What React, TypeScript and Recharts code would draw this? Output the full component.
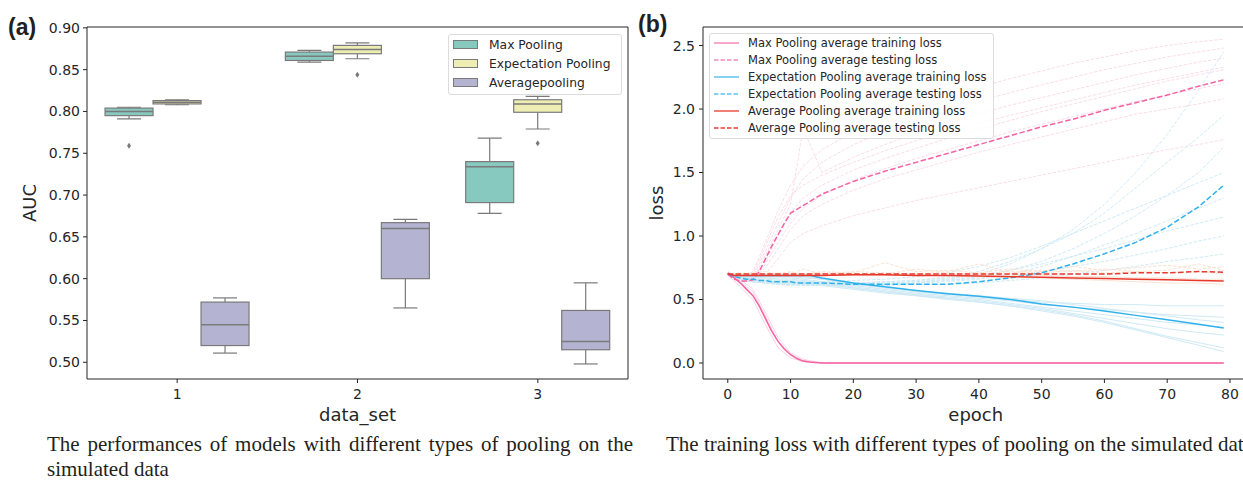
import React from 'react'
import { Bar, ComposedChart, Line, ReferenceArea, XAxis, YAxis } from 'recharts'

// ---- panel (a): AUC box plots ----
const DATA_SETS = ['1', '2', '3']
// [lower whisker, Q1, median, Q3, upper whisker]
const MAX_POOLING = [
  [0.791, 0.795, 0.8, 0.804, 0.805],
  [0.859, 0.861, 0.866, 0.871, 0.873],
  [0.678, 0.691, 0.734, 0.74, 0.768],
]
const MAX_POOLING_OUTLIERS = [[0.759], [], []]
const EXPECTATION_POOLING = [
  [0.808, 0.809, 0.811, 0.813, 0.814],
  [0.863, 0.869, 0.874, 0.879, 0.882],
  [0.779, 0.799, 0.809, 0.814, 0.818],
]
const EXPECTATION_POOLING_OUTLIERS = [[], [0.844], [0.762]]
const AVERAGE_POOLING = [
  [0.511, 0.52, 0.545, 0.572, 0.577],
  [0.565, 0.6, 0.66, 0.667, 0.671],
  [0.498, 0.515, 0.525, 0.562, 0.595],
]
const AVERAGE_POOLING_OUTLIERS = [[], [], []]
const AUC_TICKS = [0.5, 0.55, 0.6, 0.65, 0.7, 0.75, 0.8, 0.85, 0.9]

// ---- panel (b): loss curves ----
const EPOCH_TICKS = [0, 10, 20, 30, 40, 50, 60, 70, 80]
const LOSS_TICKS = [0, 0.5, 1, 1.5, 2, 2.5]

const MEAN_EPOCHS = [0, 1, 2, 3, 4, 5, 6, 7, 8, 9, 10, 11, 12, 13, 14, 15, 20, 25, 30, 35, 40, 45, 50, 55, 60, 65, 70, 75, 79]
const MAX_TRAIN = [0.71, 0.67, 0.63, 0.58, 0.53, 0.45, 0.35, 0.25, 0.17, 0.11, 0.065, 0.035, 0.015, 0.007, 0.003, 0, 0, 0, 0, 0, 0, 0, 0, 0, 0, 0, 0, 0, 0]
const MAX_TEST = [0.7, 0.66, 0.645, 0.645, 0.655, 0.72, 0.82, 0.92, 1.01, 1.1, 1.18, 1.21, 1.24, 1.27, 1.3, 1.33, 1.43, 1.51, 1.58, 1.65, 1.72, 1.79, 1.86, 1.92, 1.99, 2.05, 2.11, 2.18, 2.23]
const EXP_TRAIN = [0.7, 0.69, 0.69, 0.69, 0.69, 0.69, 0.69, 0.69, 0.69, 0.69, 0.69, 0.69, 0.69, 0.69, 0.68, 0.67, 0.63, 0.6, 0.57, 0.545, 0.525, 0.5, 0.465, 0.44, 0.41, 0.375, 0.34, 0.305, 0.275]
const EXP_TEST = [0.7, 0.68, 0.67, 0.66, 0.66, 0.65, 0.65, 0.64, 0.64, 0.64, 0.64, 0.63, 0.63, 0.63, 0.63, 0.63, 0.62, 0.62, 0.62, 0.62, 0.64, 0.67, 0.71, 0.78, 0.86, 0.95, 1.07, 1.23, 1.4]
const AVG_TRAIN = [0.7, 0.69, 0.69, 0.69, 0.69, 0.69, 0.69, 0.69, 0.69, 0.69, 0.69, 0.69, 0.69, 0.69, 0.69, 0.69, 0.695, 0.695, 0.69, 0.69, 0.685, 0.68, 0.675, 0.67, 0.665, 0.66, 0.655, 0.65, 0.645]
const AVG_TEST = [0.7, 0.7, 0.7, 0.7, 0.7, 0.7, 0.7, 0.7, 0.7, 0.7, 0.7, 0.7, 0.7, 0.7, 0.7, 0.7, 0.7, 0.7, 0.7, 0.7, 0.7, 0.7, 0.7, 0.7, 0.7, 0.71, 0.71, 0.72, 0.715]

// individual runs (faint)
const RUN_EPOCHS = [0, 2, 4, 6, 8, 10, 12, 15, 20, 25, 30, 35, 40, 45, 50, 55, 60, 65, 70, 75, 79]
const MAX_TRAIN_RUNS = [
  [0.72, 0.66, 0.58, 0.4, 0.2, 0.08, 0.03, 0, 0, 0, 0, 0, 0, 0, 0, 0, 0, 0, 0, 0, 0],
  [0.69, 0.6, 0.5, 0.3, 0.12, 0.04, 0.01, 0, 0, 0, 0, 0, 0, 0, 0, 0, 0, 0, 0, 0, 0],
  [0.71, 0.64, 0.56, 0.37, 0.17, 0.07, 0.02, 0, 0, 0, 0, 0, 0, 0, 0, 0, 0, 0, 0, 0, 0],
]
const MAX_TEST_RUNS = [
  [0.7, 0.66, 0.72, 0.95, 1.2, 1.4, 1.55, 1.68, 1.82, 1.93, 2.02, 2.1, 2.17, 2.24, 2.3, 2.36, 2.41, 2.46, 2.5, 2.53, 2.55],
  [0.7, 0.65, 0.68, 0.88, 1.1, 1.3, 1.45, 1.58, 1.72, 1.82, 1.91, 1.99, 2.06, 2.13, 2.19, 2.25, 2.31, 2.36, 2.41, 2.45, 2.48],
  [0.7, 0.64, 0.66, 0.85, 1.05, 1.25, 1.85, 1.5, 1.62, 1.72, 1.81, 1.89, 1.96, 2.03, 2.09, 2.15, 2.21, 2.27, 2.32, 2.37, 2.4],
  [0.7, 0.65, 0.67, 0.8, 1.0, 1.18, 1.3, 1.4, 1.52, 1.61, 1.69, 1.77, 1.84, 1.91, 1.98, 2.04, 2.1, 2.16, 2.22, 2.27, 2.31],
  [0.7, 0.64, 0.65, 0.78, 0.95, 1.1, 1.22, 1.32, 1.44, 1.53, 1.61, 1.68, 1.75, 1.82, 1.88, 1.94, 2.0, 2.06, 2.11, 2.16, 2.2],
  [0.7, 0.65, 0.66, 0.75, 0.9, 1.05, 1.16, 1.25, 1.36, 1.45, 1.52, 1.59, 1.66, 1.72, 1.78, 1.84, 1.9, 1.96, 2.0, 2.04, 2.08],
  [0.7, 0.64, 0.64, 0.7, 0.82, 0.95, 1.02, 1.08, 1.16, 1.22, 1.28, 1.33, 1.38, 1.43, 1.48, 1.53, 1.58, 1.63, 1.68, 1.72, 1.76],
  [0.7, 0.66, 0.7, 0.92, 1.15, 1.32, 1.4, 1.48, 1.58, 1.67, 1.75, 1.82, 1.89, 1.95, 2.01, 2.07, 2.13, 2.19, 2.24, 2.29, 2.33],
]
const EXP_TRAIN_RUNS = [
  [0.7, 0.69, 0.68, 0.68, 0.68, 0.68, 0.67, 0.66, 0.62, 0.59, 0.56, 0.54, 0.52, 0.5, 0.48, 0.47, 0.46, 0.46, 0.45, 0.45, 0.45],
  [0.7, 0.68, 0.67, 0.67, 0.67, 0.67, 0.66, 0.64, 0.61, 0.58, 0.55, 0.53, 0.51, 0.49, 0.46, 0.44, 0.42, 0.4, 0.38, 0.37, 0.36],
  [0.7, 0.67, 0.66, 0.66, 0.65, 0.65, 0.64, 0.62, 0.59, 0.56, 0.54, 0.52, 0.5, 0.47, 0.44, 0.41, 0.38, 0.35, 0.32, 0.3, 0.28],
  [0.7, 0.66, 0.64, 0.63, 0.63, 0.62, 0.62, 0.61, 0.58, 0.55, 0.53, 0.51, 0.49, 0.46, 0.43, 0.39, 0.35, 0.31, 0.27, 0.24, 0.22],
  [0.7, 0.68, 0.67, 0.67, 0.66, 0.66, 0.65, 0.63, 0.6, 0.57, 0.54, 0.51, 0.48, 0.45, 0.41, 0.37, 0.32, 0.26, 0.2, 0.14, 0.09],
  [0.7, 0.67, 0.65, 0.65, 0.64, 0.64, 0.63, 0.62, 0.59, 0.56, 0.53, 0.5, 0.48, 0.45, 0.42, 0.38, 0.33, 0.27, 0.21, 0.16, 0.12],
  [0.7, 0.69, 0.69, 0.69, 0.69, 0.69, 0.68, 0.66, 0.63, 0.6, 0.57, 0.55, 0.53, 0.51, 0.49, 0.46, 0.43, 0.4, 0.37, 0.34, 0.32],
]
const EXP_TEST_RUNS = [
  [0.7, 0.66, 0.64, 0.63, 0.63, 0.62, 0.62, 0.62, 0.62, 0.63, 0.64, 0.66, 0.7, 0.78, 0.9, 1.05, 1.25, 1.5, 1.8, 2.15, 2.45],
  [0.7, 0.67, 0.65, 0.64, 0.64, 0.63, 0.63, 0.63, 0.63, 0.64, 0.65, 0.68, 0.72, 0.8, 0.9, 1.02, 1.18, 1.38, 1.58, 1.78, 1.95],
  [0.7, 0.66, 0.64, 0.63, 0.62, 0.62, 0.61, 0.61, 0.62, 0.62, 0.63, 0.65, 0.68, 0.73, 0.8, 0.9, 1.02, 1.16, 1.32, 1.5, 1.7],
  [0.7, 0.67, 0.66, 0.65, 0.64, 0.64, 0.64, 0.64, 0.65, 0.66, 0.68, 0.71, 0.76, 0.83, 0.92, 1.02, 1.12, 1.22, 1.32, 1.42, 1.5],
  [0.7, 0.66, 0.64, 0.63, 0.62, 0.62, 0.62, 0.62, 0.62, 0.62, 0.63, 0.64, 0.66, 0.7, 0.76, 0.84, 0.93, 1.02, 1.12, 1.22, 1.3],
  [0.7, 0.66, 0.65, 0.64, 0.63, 0.63, 0.63, 0.63, 0.63, 0.64, 0.65, 0.67, 0.69, 0.73, 0.78, 0.84, 0.9, 0.97, 1.04, 1.1, 1.15],
  [0.7, 0.67, 0.65, 0.64, 0.64, 0.63, 0.63, 0.63, 0.63, 0.63, 0.64, 0.65, 0.67, 0.69, 0.72, 0.76, 0.8, 0.85, 0.9, 0.96, 1.0],
  [0.7, 0.66, 0.64, 0.63, 0.62, 0.61, 0.61, 0.61, 0.61, 0.61, 0.62, 0.62, 0.63, 0.65, 0.67, 0.7, 0.73, 0.76, 0.8, 0.83, 0.86],
]
const AVG_TRAIN_RUNS = [
  [0.7, 0.69, 0.69, 0.69, 0.69, 0.69, 0.69, 0.69, 0.69, 0.69, 0.69, 0.69, 0.68, 0.68, 0.67, 0.66, 0.65, 0.64, 0.63, 0.63, 0.62],
  [0.7, 0.7, 0.7, 0.7, 0.7, 0.7, 0.7, 0.7, 0.7, 0.7, 0.7, 0.69, 0.69, 0.69, 0.69, 0.68, 0.68, 0.67, 0.67, 0.66, 0.66],
]
const AVG_TEST_RUNS = [
  [0.7, 0.7, 0.71, 0.72, 0.7, 0.71, 0.7, 0.72, 0.71, 0.79, 0.72, 0.73, 0.71, 0.74, 0.72, 0.76, 0.73, 0.75, 0.77, 0.74, 0.76],
  [0.7, 0.69, 0.7, 0.7, 0.71, 0.7, 0.74, 0.7, 0.72, 0.71, 0.7, 0.72, 0.78, 0.71, 0.73, 0.72, 0.74, 0.72, 0.73, 0.78, 0.73],
  [0.7, 0.71, 0.7, 0.69, 0.7, 0.72, 0.7, 0.71, 0.7, 0.7, 0.74, 0.71, 0.7, 0.72, 0.71, 0.73, 0.71, 0.72, 0.71, 0.72, 0.7],
]

const FONT = '"DejaVu Sans", sans-serif'
const INK = '#262626'
const BOX_EDGE = '#7a7a7a'

const BOX_COLORS = { max: '#88c9bf', exp: '#eeeeb4', avg: '#b4b4d2' }
const PINK = '#f562a4'
const BLUE = '#2fb1ec'
const RED = '#e8392e'

const boxRows = DATA_SETS.map((name, i) => ({
  name,
  i,
  max: [MAX_POOLING[i][0], MAX_POOLING[i][4]],
  exp: [EXPECTATION_POOLING[i][0], EXPECTATION_POOLING[i][4]],
  avg: [AVERAGE_POOLING[i][0], AVERAGE_POOLING[i][4]],
}))

const toPoints = (epochs: number[], values: number[]) =>
  epochs.map((e, i) => ({ e, v: values[i] }))

// caja + bigotes a partir del rango [bigote inf, bigote sup] que escala la propia Bar
function boxShape(stats: number[][], outliers: number[][]) {
  return (p: any) => {
    const idx = p.index ?? p.payload?.i ?? 0
    const s = stats[idx]
    const top = Math.min(p.y, p.y + p.height)
    const h = Math.abs(p.height)
    const k = h / (s[4] - s[0])
    const py = (v: number) => top + (s[4] - v) * k
    const x0 = p.x
    const w = p.width
    const cx = x0 + w / 2
    const cap = w / 4
    return (
      <g>
        <line x1={cx} x2={cx} y1={py(s[4])} y2={py(s[3])} stroke={BOX_EDGE} strokeWidth={1.2} />
        <line x1={cx} x2={cx} y1={py(s[1])} y2={py(s[0])} stroke={BOX_EDGE} strokeWidth={1.2} />
        <line x1={cx - cap} x2={cx + cap} y1={py(s[4])} y2={py(s[4])} stroke={BOX_EDGE} strokeWidth={1.2} />
        <line x1={cx - cap} x2={cx + cap} y1={py(s[0])} y2={py(s[0])} stroke={BOX_EDGE} strokeWidth={1.2} />
        <rect x={x0} y={py(s[3])} width={w} height={Math.max(py(s[1]) - py(s[3]), 0.5)} fill={p.fill} stroke={BOX_EDGE} strokeWidth={1.2} />
        <line x1={x0} x2={x0 + w} y1={py(s[2])} y2={py(s[2])} stroke={BOX_EDGE} strokeWidth={1.5} />
        {outliers[idx].map((o, j) => (
          <path key={j} d={`M${cx},${py(o) - 3} L${cx + 2},${py(o)} L${cx},${py(o) + 3} L${cx - 2},${py(o)} Z`} fill={BOX_EDGE} />
        ))}
      </g>
    )
  }
}

const tickStyle = { fontFamily: FONT, fontSize: 14, fill: INK }
const labelStyle = { fontFamily: FONT, fontSize: 18, fill: INK }

function LegendA() {
  const items = [
    ['Max Pooling', BOX_COLORS.max],
    ['Expectation Pooling', BOX_COLORS.exp],
    ['Averagepooling', BOX_COLORS.avg],
  ]
  return (
    <div style={{ position: 'absolute', left: 448, top: 34, width: 174, height: 61, border: '1px solid #dcdcdc', borderRadius: 3, background: 'rgba(255,255,255,0.85)', boxSizing: 'border-box', padding: '0 0 0 4px' }}>
      {items.map(([t, c]) => (
        <div key={t} style={{ display: 'flex', alignItems: 'center', height: 19, fontFamily: FONT, fontSize: 12.3, color: INK }}>
          <span style={{ width: 25, height: 9, background: c, border: `1px solid ${BOX_EDGE}`, marginRight: 11, boxSizing: 'border-box' }} />
          {t}
        </div>
      ))}
    </div>
  )
}

function LegendB() {
  const items: [string, string, boolean][] = [
    ['Max Pooling average training loss', '#f78bbd', false],
    ['Max Pooling average testing loss', '#f78bbd', true],
    ['Expectation Pooling average training loss', '#5cc3f0', false],
    ['Expectation Pooling average testing loss', '#5cc3f0', true],
    ['Average Pooling average training loss', '#ee5448', false],
    ['Average Pooling average testing loss', '#ee3a30', true],
  ]
  return (
    <div style={{ position: 'absolute', left: 709, top: 33, width: 285, height: 106, border: '1px solid #dcdcdc', borderRadius: 3, background: 'rgba(255,255,255,0.85)', boxSizing: 'border-box', padding: '0 0 0 4px' }}>
      {items.map(([t, c, dashed]) => (
        <div key={t} style={{ display: 'flex', alignItems: 'center', height: 17, fontFamily: FONT, fontSize: 11.5, color: INK, whiteSpace: 'nowrap' }}>
          <svg width={25} height={4} style={{ marginRight: 9 }}>
            <line x1={0} x2={25} y1={2} y2={2} stroke={c} strokeWidth={1.5} strokeDasharray={dashed ? '4.5 2' : undefined} />
          </svg>
          {t}
        </div>
      ))}
    </div>
  )
}

const caption: React.CSSProperties = {
  position: 'absolute',
  fontFamily: '"Liberation Serif", "Times New Roman", serif',
  fontSize: 21,
  lineHeight: '25px',
  color: '#231f20',
}

const panelTag: React.CSSProperties = {
  position: 'absolute',
  fontFamily: '"Liberation Sans", Arial, sans-serif',
  fontWeight: 'bold',
  fontSize: 23,
  color: '#231f20',
  lineHeight: '28px',
}

export default function App() {
  const faint = (epochs: number[], runs: number[][], color: string, dashed: boolean, key: string) =>
    runs.map((r, i) => (
      <Line
        key={`${key}-${i}`}
        data={toPoints(epochs, r)}
        dataKey="v"
        type="linear"
        stroke={color}
        strokeWidth={1}
        strokeDasharray={dashed ? '3.5 1.5' : undefined}
        dot={false}
        activeDot={false}
        isAnimationActive={false}
      />
    ))
  const mean = (values: number[], color: string, dashed: boolean, key: string) => (
    <Line
      key={key}
      data={toPoints(MEAN_EPOCHS, values)}
      dataKey="v"
      type="linear"
      stroke={color}
      strokeWidth={1.5}
      strokeDasharray={dashed ? '5.5 2.4' : undefined}
      dot={false}
      activeDot={false}
      isAnimationActive={false}
    />
  )

  return (
    <div style={{ position: 'absolute', left: 0, top: 0, width: 1243, height: 480, overflow: 'hidden', background: '#fff' }}>
      {/* (a) */}
      <div style={{ position: 'absolute', left: 0, top: 0 }}>
        <ComposedChart width={640} height={480} data={boxRows} margin={{ top: 27, right: 12, bottom: 59, left: 0 }} barCategoryGap="10%" barGap={0}>
          <XAxis
            dataKey="name"
            height={42}
            tick={tickStyle}
            tickSize={4}
            tickMargin={6}
            axisLine={false}
            tickLine={{ stroke: INK }}
            label={{ value: 'data_set', position: 'insideBottom', offset: 0, style: labelStyle }}
          />
          <YAxis
            type="number"
            domain={[0.48, 0.901]}
            ticks={AUC_TICKS}
            allowDataOverflow
            width={87}
            tick={tickStyle}
            tickSize={4}
            tickMargin={3}
            axisLine={false}
            tickLine={{ stroke: INK }}
            tickFormatter={(v: number) => v.toFixed(2)}
            label={{ value: 'AUC', angle: -90, position: 'insideLeft', offset: 30, style: { ...labelStyle, textAnchor: 'middle' } }}
          />
          <Bar dataKey="max" fill={BOX_COLORS.max} shape={boxShape(MAX_POOLING, MAX_POOLING_OUTLIERS)} isAnimationActive={false} />
          <Bar dataKey="exp" fill={BOX_COLORS.exp} shape={boxShape(EXPECTATION_POOLING, EXPECTATION_POOLING_OUTLIERS)} isAnimationActive={false} />
          <Bar dataKey="avg" fill={BOX_COLORS.avg} shape={boxShape(AVERAGE_POOLING, AVERAGE_POOLING_OUTLIERS)} isAnimationActive={false} />
          <ReferenceArea y1={0.48} y2={0.901} fill="none" stroke={INK} strokeWidth={1} ifOverflow="visible" />
        </ComposedChart>
      </div>
      <LegendA />

      {/* (b) */}
      <div style={{ position: 'absolute', left: 640, top: 0 }}>
        <ComposedChart width={620} height={480} margin={{ top: 27, right: 11.5, bottom: 59, left: 0 }}>
          <XAxis
            type="number"
            dataKey="e"
            domain={[-3.95, 82.95]}
            ticks={EPOCH_TICKS}
            allowDataOverflow
            height={42}
            tick={tickStyle}
            tickSize={4}
            tickMargin={6}
            axisLine={false}
            tickLine={{ stroke: INK }}
            label={{ value: 'epoch', position: 'insideBottom', offset: 0, style: labelStyle }}
          />
          <YAxis
            type="number"
            domain={[-0.126, 2.646]}
            ticks={LOSS_TICKS}
            allowDataOverflow
            width={63}
            tick={tickStyle}
            tickSize={4}
            tickMargin={4}
            axisLine={false}
            tickLine={{ stroke: INK }}
            tickFormatter={(v: number) => v.toFixed(1)}
            label={{ value: 'loss', angle: -90, position: 'insideLeft', offset: 17, style: { ...labelStyle, textAnchor: 'middle' } }}
          />
          {faint(RUN_EPOCHS, MAX_TEST_RUNS, '#fbdce8', true, 'mte')}
          {faint(RUN_EPOCHS, EXP_TEST_RUNS, '#cfeaf6', true, 'ete')}
          {faint(RUN_EPOCHS, EXP_TRAIN_RUNS, '#cfeaf6', false, 'etr')}
          {faint(RUN_EPOCHS, AVG_TEST_RUNS, '#fbe3d2', true, 'ate')}
          {faint(RUN_EPOCHS, AVG_TRAIN_RUNS, '#fbe3d2', false, 'atr')}
          {faint(RUN_EPOCHS, MAX_TRAIN_RUNS, '#fbd6e6', false, 'mtr')}
          {mean(MAX_TRAIN, PINK, false, 'm1')}
          {mean(MAX_TEST, PINK, true, 'm2')}
          {mean(EXP_TRAIN, BLUE, false, 'm3')}
          {mean(EXP_TEST, BLUE, true, 'm4')}
          {mean(AVG_TRAIN, RED, false, 'm5')}
          {mean(AVG_TEST, RED, true, 'm6')}
          <ReferenceArea y1={-0.126} y2={2.646} fill="none" stroke={INK} strokeWidth={1} ifOverflow="visible" />
        </ComposedChart>
      </div>
      <LegendB />

      <div style={{ ...panelTag, left: 8, top: 13 }}>(a)</div>
      <div style={{ ...panelTag, left: 638, top: 10 }}>(b)</div>

      <div style={{ ...caption, left: 47, top: 432, width: 586, textAlign: 'justify' }}>
        The performances of models with different types of pooling on the simulated data
      </div>
      <div style={{ ...caption, left: 666, top: 432, whiteSpace: 'nowrap' }}>
        The training loss with different types of pooling on the simulated data
      </div>
    </div>
  )
}
